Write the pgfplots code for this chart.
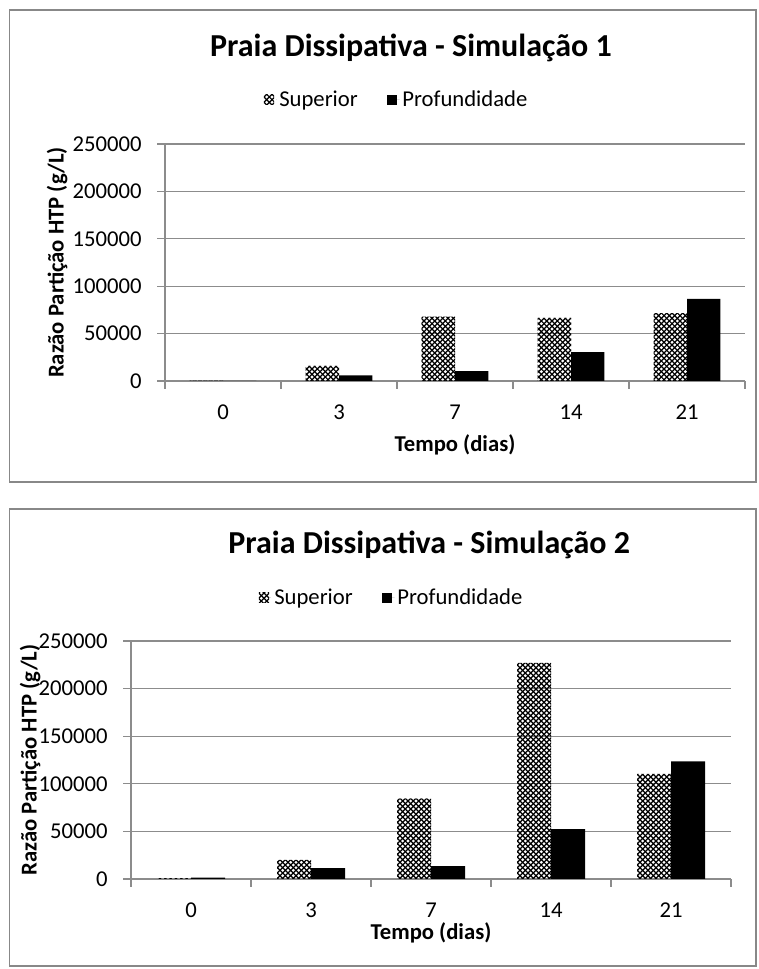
\documentclass[border=0pt]{standalone}
\usepackage{pgfplots}
\pgfplotsset{compat=1.18}
\usepackage{pgfplotstable}
\usepackage{fontspec}
\setmainfont{Carlito}
\usetikzlibrary{patterns}

\definecolor{axisgray}{HTML}{8C8C8C}
\definecolor{gridgray}{HTML}{8C8C8C}
\definecolor{framegray}{HTML}{888888}

% dotted-diamond fill used for the "Superior" bars
\pgfdeclarepatternformonly{dotdiamond}{\pgfqpoint{-0.5pt}{-0.5pt}}{\pgfqpoint{4.5pt}{4.5pt}}{\pgfqpoint{4pt}{4pt}}{%
  \pgfsetlinewidth{0.9pt}%
  \pgfpathmoveto{\pgfqpoint{0pt}{0pt}}\pgfpathlineto{\pgfqpoint{4pt}{4pt}}%
  \pgfpathmoveto{\pgfqpoint{0pt}{4pt}}\pgfpathlineto{\pgfqpoint{4pt}{0pt}}%
  \pgfusepath{stroke}%
}

% Razao de particao HTP, simulacao 1 (x = 0..4 for days 0, 3, 7, 14, 21)
\pgfplotstableread{
x sup prof
0 300 200
1 16000 6000
2 68000 10500
3 66500 30500
4 71500 86500
}\simA

% Razao de particao HTP, simulacao 2
\pgfplotstableread{
x sup prof
0 1000 1500
1 20000 11500
2 84500 13500
3 227000 52500
4 110500 123500
}\simB

\pgfplotsset{
  razao/.style={
    scale only axis,
    ybar=0pt,
    ymin=0, ymax=250000,
    ytick={0,50000,100000,150000,200000,250000},
    scaled y ticks=false,
    /pgf/number format/.cd, fixed, 1000 sep={}, assume math mode=true, /pgfplots/.cd,
    xmin=-0.5, xmax=4.5,
    xtick={0,1,2,3,4},
    xticklabels={0,3,7,14,21},
    minor xtick={-0.5,0.5,1.5,2.5,3.5,4.5},
    axis lines=left,
    axis line style={-, draw=axisgray, line width=0.8pt},
    ymajorgrids,
    major grid style={draw=gridgray, line width=0.8pt},
    tick align=outside,
    major tick length=6pt,
    minor tick length=6pt,
    tick style={draw=axisgray, line width=0.8pt},
    major x tick style={draw=none},
    yticklabel style={font=\fontsize{17}{20}\selectfont, xshift=-8pt},
    xticklabel style={font=\fontsize{17}{20}\selectfont, yshift=-23pt,
      anchor=base, text height=12pt, text depth=0pt},
    xlabel={Tempo (dias)},
    ylabel={Razão Partição HTP (g/L)},
    xlabel style={font=\bfseries\fontsize{17}{20}\selectfont, anchor=center},
    ylabel style={font=\bfseries\fontsize{17}{20}\selectfont, anchor=center},
    title style={font=\bfseries\fontsize{24}{28}\selectfont, anchor=center},
    legend columns=2,
    legend style={draw=none, fill=none, anchor=center,
      font=\fontsize{17}{20}\selectfont,
      /tikz/every even column/.append style={column sep=20pt}},
  },
  supbar/.style={draw=none, pattern=dotdiamond, pattern color=black,
    legend image code/.code={%
      \fill[pattern=dotdiamond, pattern color=black] (0pt,-3.8pt) rectangle (7.6pt,3.8pt);
      \path (0pt,0pt) -- (9.5pt,0pt);}},
  profbar/.style={draw=none, fill=black,
    legend image code/.code={%
      \fill[black] (0pt,-3.8pt) rectangle (7.6pt,3.8pt);
      \path (0pt,0pt) -- (9.5pt,0pt);}},
}

\begin{document}
\begin{tikzpicture}
\path[use as bounding box, fill=white] (0pt,0pt) rectangle (568.5pt,726.75pt);
% chart frames
\draw[framegray, line width=1.1pt] (7.1pt,365.25pt) rectangle (567pt,719.25pt);
\draw[framegray, line width=1.1pt] (7.1pt,2.25pt) rectangle (567pt,345pt);

\begin{axis}[razao,
  at={(123.75pt,441pt)}, anchor=south west,
  width=435pt, height=177.75pt,
  bar width=25pt,
  title={Praia Dissipativa - Simulação 1},
  title style={at={(axis description cs:0.424,1.37)}},
  legend style={at={(axis description cs:0.40,1.186)}},
  ylabel style={at={(axis description cs:-0.186,0.5)}},
  xlabel style={at={(axis description cs:0.5,-0.27)}},
]
\addplot[supbar] table[x=x, y=sup] {\simA};
\addplot[profbar] table[x=x, y=prof] {\simA};
\legend{Superior, Profundidade}
\end{axis}

\begin{axis}[razao,
  at={(98.25pt,67.5pt)}, anchor=south west,
  width=450pt, height=178.5pt,
  bar width=25.5pt,
  title={Praia Dissipativa - Simulação 2},
  title style={at={(axis description cs:0.497,1.37)}},
  legend style={at={(axis description cs:0.435,1.181)}},
  ylabel style={at={(axis description cs:-0.168,0.5)}},
  xlabel style={at={(axis description cs:0.5,-0.227)}},
]
\addplot[supbar] table[x=x, y=sup] {\simB};
\addplot[profbar] table[x=x, y=prof] {\simB};
\legend{Superior, Profundidade}
\end{axis}
\end{tikzpicture}
\end{document}
